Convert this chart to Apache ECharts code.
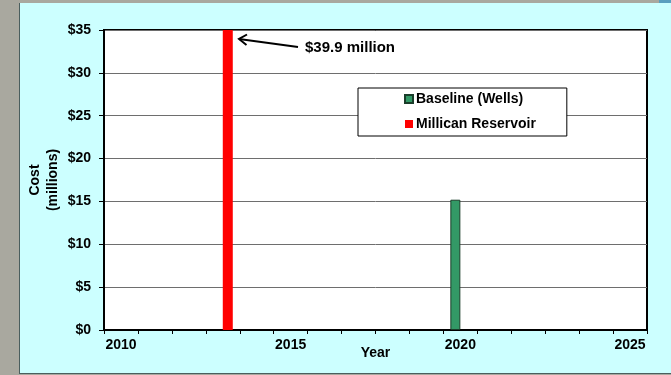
<!DOCTYPE html>
<html>
<head>
<meta charset="utf-8">
<script src="https://cdn.jsdelivr.net/npm/echarts@6/dist/echarts.min.js"></script>
<style>
  html, body { margin: 0; padding: 0; }
  #wrap { position: relative; width: 671px; height: 375px; background: #a9a89f; overflow: hidden; }
  #panel { position: absolute; left: 19px; top: 3px; width: 652px; height: 371px; background: #ccffff;
           border-left: 1px solid #4a5e5e; border-bottom: 1px solid #4a5e5e; box-sizing: border-box; }
  #corner { position: absolute; left: 659px; top: 0; width: 12px; height: 3px; background: #5a9fbf; }
  #chart { position: absolute; left: 0; top: 0; width: 671px; height: 375px; }
</style>
</head>
<body>
<div id="wrap">
  <div id="panel"></div>
  <div id="corner"></div>
  <div id="chart"></div>
</div>
<script>
// Data
const years = ['2010','2011','2012','2013','2014','2015','2016','2017','2018','2019','2020','2021','2022','2023','2024','2025'];
const baselineWells = [null,null,null,null,null,null,null,null,null,null,15.2,null,null,null,null,null];
const millicanReservoir = [null,null,null,39.9,null,null,null,null,null,null,null,null,null,null,null,null];
const yTicks = { min: 0, max: 35, interval: 5 };
const annotationText = '$39.9 million';

const FONT = '"Liberation Sans", Arial, sans-serif';
const chart = echarts.init(document.getElementById('chart'), null, { renderer: 'canvas' });

chart.setOption({
  backgroundColor: 'transparent',
  animation: false,
  grid: {
    left: 104, top: 30, right: 24, bottom: 45,
    show: true, backgroundColor: '#ffffff', borderColor: '#000000', borderWidth: 2
  },
  legend: {
    orient: 'vertical',
    left: 358, top: 88,
    padding: [4, 31, 5, 46],
    itemGap: 11,
    itemWidth: 8, itemHeight: 8,
    icon: 'rect',
    backgroundColor: '#ffffff',
    borderColor: '#000000',
    borderWidth: 1,
    textStyle: { fontFamily: FONT, fontWeight: 'bold', fontSize: 14, color: '#000', padding: [0, 0, 0, -2] },
    data: ['Baseline (Wells)', 'Millican Reservoir']
  },
  xAxis: {
    type: 'category',
    data: years,
    boundaryGap: true,
    name: 'Year',
    nameLocation: 'middle',
    nameGap: 16,
    nameMoveOverlap: false,
    nameTextStyle: { fontFamily: FONT, fontWeight: 'bold', fontSize: 14, color: '#000' },
    axisLine: { lineStyle: { color: '#000', width: 2 } },
    axisTick: { show: true, interval: 0, length: 4, lineStyle: { color: '#000', width: 1 } },
    axisLabel: { interval: 4, margin: 8, fontFamily: FONT, fontWeight: 'bold', fontSize: 14, color: '#000' },
    splitLine: { show: false }
  },
  yAxis: {
    type: 'value',
    min: yTicks.min, max: yTicks.max, interval: yTicks.interval,
    name: 'Cost\n(millions)',
    nameLocation: 'middle',
    nameRotate: 90,
    nameGap: 42,
    nameMoveOverlap: false,
    nameTextStyle: { fontFamily: FONT, fontWeight: 'bold', fontSize: 14, color: '#000', lineHeight: 18, align: 'center' },
    axisLine: { show: true, lineStyle: { color: '#000', width: 2 } },
    axisTick: { show: true, length: 5, lineStyle: { color: '#000', width: 1 } },
    axisLabel: { margin: 13, fontFamily: FONT, fontWeight: 'bold', fontSize: 14, color: '#000',
                 formatter: function (v) { return '$' + v; } },
    splitLine: { show: true, lineStyle: { color: '#6e6e6e', width: 1 } }
  },
  series: [
    {
      name: 'Baseline (Wells)',
      type: 'bar',
      data: baselineWells,
      barWidth: 10,
      barGap: '0%',
      clip: true,
      itemStyle: { color: '#339966', borderColor: '#1a3d2a', borderWidth: 1 }
    },
    {
      name: 'Millican Reservoir',
      type: 'bar',
      data: millicanReservoir,
      barWidth: 10,
      barGap: '0%',
      clip: true,
      itemStyle: { color: '#ff0000' }
    }
  ],
  graphic: [
    {
      type: 'polyline', z: 100,
      shape: { points: [[298, 47], [239, 39]] },
      style: { stroke: '#000', lineWidth: 2, fill: null }
    },
    {
      type: 'polyline', z: 100,
      shape: { points: [[247, 34.5], [239, 39], [246.5, 45]] },
      style: { stroke: '#000', lineWidth: 2, fill: null }
    },
    {
      type: 'text', z: 100,
      left: 305, top: 40,
      style: { text: annotationText, fontFamily: FONT, fontWeight: 'bold', fontSize: 15, fill: '#000' }
    }
  ]
});
</script>
</body>
</html>
